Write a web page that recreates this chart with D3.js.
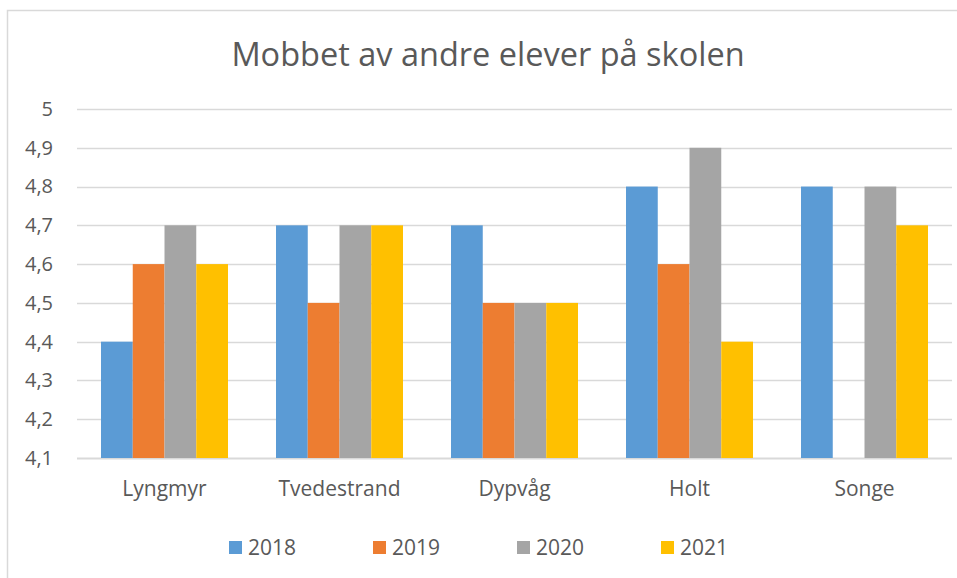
<!DOCTYPE html>
<html>
<head>
<meta charset="utf-8">
<script src="https://cdn.jsdelivr.net/npm/d3@7"></script>
<style>
  body { margin: 0; background: #fff; }
  text { font-family: "Open Sans", sans-serif; fill: #595959; }
</style>
</head>
<body>
<svg class="chart"></svg>
<script>
var categories = ["Lyngmyr", "Tvedestrand", "Dypvåg", "Holt", "Songe"];
var years = ["2018", "2019", "2020", "2021"];
var v2018 = [4.4, 4.7, 4.7, 4.8, 4.8];
var v2019 = [4.6, 4.5, 4.5, 4.6, null];
var v2020 = [4.7, 4.7, 4.5, 4.9, 4.8];
var v2021 = [4.6, 4.7, 4.5, 4.4, 4.7];
var yTicks = [4.1, 4.2, 4.3, 4.4, 4.5, 4.6, 4.7, 4.8, 4.9, 5];
var colors = ["#5B9BD5", "#ED7D31", "#A5A5A5", "#FFC000"];

var series = [v2018, v2019, v2020, v2021];

var W = 957, H = 578;
var margin = {top: 109, right: 5, bottom: 120, left: 77},
    width = 952 - margin.left,
    height = 458 - margin.top;

var svg = d3.select(".chart")
    .attr("width", W)
    .attr("height", H);

// outer frame (runs past the window on right and bottom)
svg.append("rect")
    .attr("x", 7.5).attr("y", 10.5)
    .attr("width", 1000).attr("height", 1000)
    .attr("fill", "none")
    .attr("stroke", "#D9D9D9")
    .attr("stroke-width", 1.5);

var chart = svg.append("g")
    .attr("transform", "translate(" + margin.left + "," + margin.top + ")");

var x0 = d3.scaleBand()
    .domain(categories)
    .range([0, width])
    .padding(0);

var x1 = d3.scaleBand()
    .domain(years)
    .range([24, x0.bandwidth() - 24])
    .padding(0);

var y = d3.scaleLinear()
    .domain([4.1, 5])
    .range([height, 0]);

var z = d3.scaleOrdinal().domain(years).range(colors);

var fmt = function(d) { return d3.format("")(d).replace(".", ","); };

// gridlines
chart.append("g")
    .attr("class", "grid")
  .selectAll("line")
    .data(yTicks)
    .enter().append("line")
    .attr("x1", 0)
    .attr("x2", width)
    .attr("y1", function(d) { return Math.round(y(d)) + 0.5; })
    .attr("y2", function(d) { return Math.round(y(d)) + 0.5; })
    .attr("stroke", "#D9D9D9")
    .attr("stroke-width", function(d) { return d === 4.1 ? 2 : 1.5; });

// y axis labels
var yAxis = d3.axisLeft(y)
    .tickValues(yTicks)
    .tickSize(0)
    .tickPadding(24)
    .tickFormat(fmt);

chart.append("g")
    .attr("class", "y axis")
    .call(yAxis)
    .call(function(g) { g.select(".domain").remove(); })
  .selectAll("text")
    .style("font-size", "20px")
    .attr("fill", "#595959");

// bars
var rows = categories.map(function(c, i) {
  return {cat: c, vals: years.map(function(yr, j) { return {year: yr, value: series[j][i]}; })};
});

chart.selectAll(".cat")
    .data(rows)
    .enter().append("g")
      .attr("class", "cat")
      .attr("transform", function(d) { return "translate(" + x0(d.cat) + ",0)"; })
    .selectAll("rect")
      .data(function(d) { return d.vals.filter(function(v) { return v.value != null; }); })
      .enter().append("rect")
      .attr("x", function(d) { return x1(d.year); })
      .attr("y", function(d) { return y(d.value); })
      .attr("width", x1.bandwidth())
      .attr("height", function(d) { return y(4.1) - y(d.value); })
      .attr("fill", function(d) { return z(d.year); });

// x axis labels
var xAxis = d3.axisBottom(x0).tickSize(0).tickPadding(23);
chart.append("g")
    .attr("class", "x axis")
    .attr("transform", "translate(0," + height + ")")
    .call(xAxis)
    .call(function(g) { g.select(".domain").remove(); })
  .selectAll("text")
    .style("font-size", "21px")
    .attr("fill", "#595959");

// title
svg.append("text")
    .attr("x", 488)
    .attr("y", 66)
    .attr("text-anchor", "middle")
    .style("font-size", "32.5px")
    .text("Mobbet av andre elever på skolen");

// legend
var legend = svg.selectAll(".legend")
    .data(years)
    .enter().append("g")
      .attr("class", "legend")
      .attr("transform", function(d, i) { return "translate(" + (229 + i * 144) + ",541)"; });

legend.append("rect")
    .attr("width", 13)
    .attr("height", 13)
    .attr("fill", z);

legend.append("text")
    .attr("x", 19)
    .attr("y", 7)
    .attr("dy", ".35em")
    .style("font-size", "21px")
    .text(function(d) { return d; });
</script>
</body>
</html>
